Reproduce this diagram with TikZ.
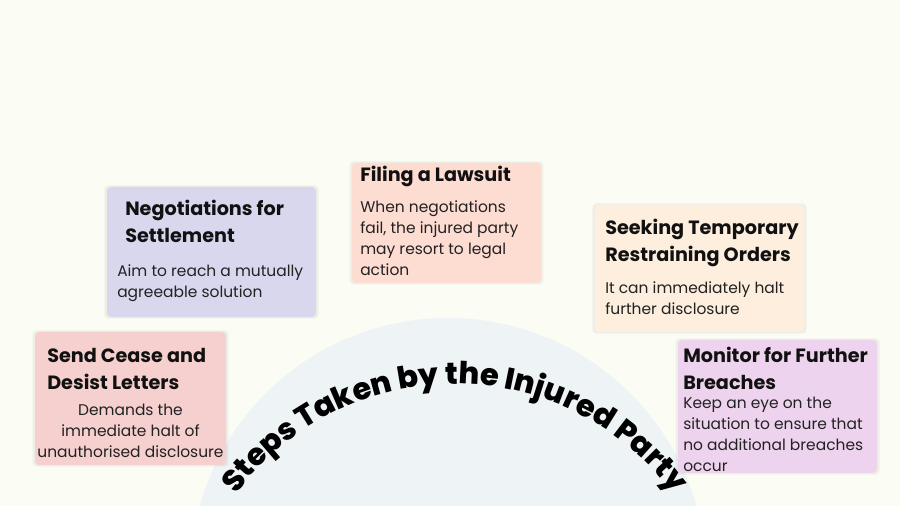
\documentclass[tikz,border=0pt]{standalone}
\usepackage{fontspec}
\setmainfont{Poppins}
\newfontfamily\arcfont{Poppins ExtraBold}
\usepackage{xcolor}
\usepackage{tikz}
\usetikzlibrary{decorations.text,fit,shadows}
\definecolor{Paper}{HTML}{FBFCF4}
\definecolor{Dome}{HTML}{EEF4F5}
\definecolor{CeaseFill}{HTML}{F6CFCF}
\definecolor{NegoFill}{HTML}{D9D7EE}
\definecolor{SuitFill}{HTML}{FDDCD2}
\definecolor{OrderFill}{HTML}{FDEEDE}
\definecolor{WatchFill}{HTML}{EED3EE}
\definecolor{Ink}{HTML}{111111}
\definecolor{Muted}{HTML}{222222}

\begin{document}
\begin{tikzpicture}[x=0.75pt,y=0.75pt,
  card/.style={rectangle,rounded corners=3pt,inner sep=0pt,
    general shadow={fill=black,opacity=0.05,shadow scale=1.025}},
  head/.style={anchor=base west,inner sep=0pt,align=left,text=Ink,
    font=\fontsize{14.4}{20.25}\selectfont\bfseries},
  blurb/.style={inner sep=0pt,align=left,text=Muted,
    font=\fontsize{11.6}{15.75}\selectfont}]
  \useasboundingbox (0,0) rectangle (900,506);
  \clip (0,0) rectangle (900,506);
  \fill[Paper] (0,0) rectangle (900,506);
  % half dome and its curved title
  \fill[Dome] (448,-70) circle[radius=258];
  \coordinate (arcC) at (455,-150);
  \path[decorate,decoration={text along path,text align=center,
      text={|\arcfont\fontsize{22.8}{22.8}\selectfont|Steps Taken by the Injured Party}}]
    (arcC) ++(155:272) arc[start angle=155,end angle=25,radius=272];
  % the five steps (text nodes sit on their last baseline)
  \node[card,fill=CeaseFill,fit={(35,41) (226,174)}] (cease) {};
  \node[head] (ceaseT) at (47,116) {Send Cease and\\Desist Letters};
  \node[blurb,anchor=base,align=center] (ceaseB) at (130.5,48)
    {Demands the\\immediate halt of\\unauthorised disclosure};
  \node[card,fill=NegoFill,fit={(107,189) (316,319)}] (nego) {};
  \node[head] (negoT) at (125,263) {Negotiations for\\Settlement};
  \node[blurb,anchor=base west] (negoB) at (117,208)
    {Aim to reach a mutually\\agreeable solution};
  \node[card,fill=SuitFill,fit={(352,223) (541,343)}] (suit) {};
  \node[head] (suitT) at (360,324) {Filing a Lawsuit};
  \node[blurb,anchor=base west] (suitB) at (360,230)
    {When negotiations\\fail, the injured party\\may resort to legal\\action};
  \node[card,fill=OrderFill,fit={(595,174) (804,301)}] (order) {};
  \node[head] (orderT) at (605,244) {Seeking Temporary\\Restraining Orders};
  \node[blurb,anchor=base west] (orderB) at (605,191)
    {It can immediately halt\\further disclosure};
  \node[card,fill=WatchFill,fit={(678,33) (877,166)}] (watch) {};
  \node[head] (watchT) at (683,116) {Monitor for Further\\Breaches};
  \node[blurb,anchor=base west] (watchB) at (683,34)
    {Keep an eye on the\\situation to ensure that\\no additional breaches\\occur};
\end{tikzpicture}
\end{document}
